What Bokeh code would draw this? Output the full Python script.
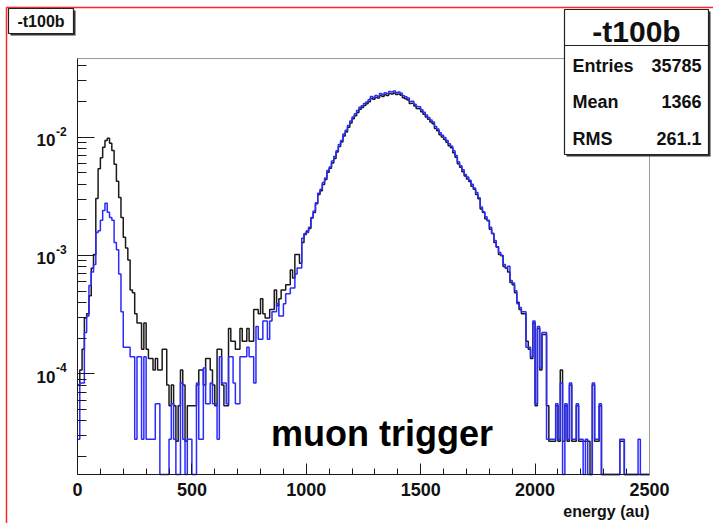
import numpy as np
from bokeh.plotting import figure
from bokeh.models import FixedTicker, Label, BoxAnnotation, Range1d, ColumnDataSource, LinearAxis, LogAxis
from bokeh.embed import file_html
from bokeh.resources import INLINE

# ---------------- data (counts per 10-unit bin, 0..2500) ----------------
BIN_WIDTH = 10
N_BINS = 250
BLACK_ENTRIES = 37200
BLUE_ENTRIES = 35785
STATS_TITLE = "-t100b"
STATS = [("Entries", "35785"), ("Mean", "1366"), ("RMS", "261.1")]
X_TICKS = [0, 500, 1000, 1500, 2000, 2500]
Y_TICKS = [1e-4, 1e-3, 1e-2]
Y_TICK_EXP = ["-4", "-3", "-2"]
X_LABEL = "energy (au)"
NOTE = "muon trigger"

black_counts = [
    3, 4, 6, 11, 12, 17, 29, 38, 113, 201,
    249, 306, 349, 364, 330, 287, 220, 158, 115, 78,
    53, 43, 34, 19, 18, 12, 10, 10, 6, 10,
    6, 5, 5, 4, 5, 4, 4, 6, 6, 3,
    2, 3, 2, 1, 2, 4, 3, 1, 2, 2,
    2, 2, 3, 4, 4, 3, 5, 5, 4, 3,
    2, 6, 6, 3, 2, 2, 9, 7, 7, 6,
    6, 9, 7, 7, 9, 7, 7, 13, 13, 12,
    16, 12, 11, 11, 13, 13, 19, 14, 16, 19,
    19, 21, 21, 28, 24, 38, 38, 32, 48, 56,
    60, 63, 77, 86, 102, 122, 131, 148, 163, 188,
    203, 225, 245, 278, 310, 338, 380, 412, 450, 490,
    532, 565, 602, 640, 662, 690, 712, 740, 790, 778,
    805, 797, 835, 822, 850, 837, 868, 862, 878, 852,
    860, 842, 800, 787, 765, 717, 718, 682, 650, 647,
    610, 582, 550, 527, 500, 482, 440, 422, 390, 374,
    355, 337, 315, 302, 275, 252, 222, 207, 190, 175,
    165, 157, 143, 135, 122, 112, 92, 86, 76, 73,
    62, 57, 48, 44, 38, 37, 30, 29, 27, 22,
    21, 18, 15, 13, 12, 12, 7, 6, 5, 10,
    2, 9, 4, 8, 8, 2, 1, 1, 1, 2,
    1, 4, 1, 2, 1, 3, 1, 1, 2, 1,
    1, 1, 1, 1, 0, 3, 1, 1, 2, 0,
    0, 0, 0, 0, 0, 0, 0, 1, 1, 0,
    0, 0, 0, 0, 0, 0, 0, 0, 0, 0,
]

blue_counts = [
    1, 3, 3, 8, 11, 20, 26, 30, 56, 58,
    71, 86, 99, 83, 75, 71, 46, 40, 25, 12,
    6, 6, 6, 5, 5, 1, 5, 5, 1, 5,
    1, 1, 1, 1, 2, 2, 0, 0, 0, 0,
    1, 2, 1, 0, 0, 3, 1, 0, 1, 1,
    0, 0, 3, 1, 1, 4, 2, 2, 3, 2,
    2, 1, 5, 3, 3, 2, 5, 5, 3, 2,
    2, 5, 5, 5, 6, 5, 5, 3, 9, 7,
    7, 10, 10, 7, 10, 12, 12, 14, 11, 11,
    14, 17, 17, 19, 19, 25, 28, 28, 50, 55,
    56, 62, 75, 85, 100, 120, 130, 148, 162, 187,
    200, 225, 245, 275, 310, 335, 380, 410, 450, 490,
    530, 565, 600, 640, 660, 690, 710, 740, 790, 775,
    805, 795, 835, 820, 850, 835, 870, 860, 880, 850,
    860, 840, 800, 785, 765, 715, 720, 680, 650, 645,
    610, 580, 550, 525, 500, 480, 440, 420, 390, 372,
    355, 335, 315, 300, 275, 250, 222, 205, 190, 173,
    165, 155, 143, 133, 122, 110, 92, 84, 76, 71,
    62, 55, 48, 42, 38, 36, 30, 28, 29, 22,
    21, 18, 14, 13, 12, 12, 6, 6, 5, 10,
    2, 9, 4, 8, 8, 1, 1, 1, 1, 2,
    1, 3, 0, 2, 1, 3, 1, 1, 2, 1,
    1, 0, 1, 0, 0, 3, 1, 1, 2, 0,
    0, 0, 0, 0, 0, 0, 0, 1, 1, 0,
    0, 0, 0, 0, 0, 1, 0, 0, 0, 0,
]

# ---------------- geometry ----------------
W, H = 713, 523
X_MIN, X_MAX = 0, 2500
Y_MIN, Y_MAX = 1.41e-5, 0.0462
# the frame fills the whole canvas; the histogram box sits at px 77..649 x 58..474
FR_L, FR_R, FR_T, FR_B = 77, 649, 58, 474
xs = (X_MAX - X_MIN) / (FR_R - FR_L)
dec = (FR_B - FR_T) / (np.log10(Y_MAX) - np.log10(Y_MIN))
x_start = X_MIN - FR_L * xs
x_end = X_MAX + (W - FR_R) * xs
y_top = 10 ** (np.log10(Y_MAX) + FR_T / dec)
y_bot = 10 ** (np.log10(Y_MIN) - (H - FR_B) / dec)

FONT = "Liberation Sans"
INK = "#111111"
AX = "#1a1a1a"

p = figure(width=W, height=H, x_range=Range1d(x_start, x_end), y_range=Range1d(y_bot, y_top),
           y_axis_type="log", title=None, output_backend="svg", toolbar_location=None,
           min_border=0, min_border_left=0, min_border_right=0, min_border_top=0, min_border_bottom=0)
p.background_fill_color = "white"
p.border_fill_color = "white"
p.outline_line_color = None
p.xgrid.visible = False
p.ygrid.visible = False

# red canvas border (top and left visible)
p.add_layout(BoxAnnotation(left=6, right=W + 40, top=H - 7, bottom=-40, left_units="screen", right_units="screen",
                           top_units="screen", bottom_units="screen", fill_alpha=0, line_color="#ff2626",
                           line_alpha=1, line_width=1.5))

# ---------------- histograms ----------------
edges = np.arange(N_BINS + 1) * BIN_WIDTH


def step_y(counts, entries):
    d = np.array(counts, dtype=float) / entries
    d[d <= 0] = Y_MIN
    return np.append(d, d[-1])


src = ColumnDataSource(dict(x=edges, black=step_y(black_counts, BLACK_ENTRIES),
                            blue=step_y(blue_counts, BLUE_ENTRIES)))
p.step("x", "black", source=src, mode="after", line_color="#1a1a1a", line_width=1.5)
p.step("x", "blue", source=src, mode="after", line_color="#2a2aff", line_width=1.5)

# ---------------- axes ----------------
xa = p.xaxis[0]
xa.fixed_location = Y_MIN
xa.bounds = (X_MIN, X_MAX)
xa.ticker = FixedTicker(ticks=X_TICKS, minor_ticks=[v for v in range(0, 2501, 100) if v % 500])
xa.major_tick_in = 11
xa.major_tick_out = 0
xa.minor_tick_in = 6
xa.minor_tick_out = 0
xa.major_label_standoff = 8
xa.major_label_text_font = FONT
xa.major_label_text_font_style = "bold"
xa.major_label_text_font_size = "18px"
xa.major_label_text_color = INK
xa.axis_line_color = AX
xa.major_tick_line_color = AX
xa.minor_tick_line_color = AX

minor_y = []
for d0 in [1e-5, 1e-4, 1e-3, 1e-2]:
    for k in range(2, 10):
        v = k * d0
        if Y_MIN < v < Y_MAX:
            minor_y.append(v)
ya = p.yaxis[0]
ya.fixed_location = X_MIN
ya.bounds = (Y_MIN, Y_MAX)
ya.ticker = FixedTicker(ticks=Y_TICKS, minor_ticks=minor_y)
ya.major_label_overrides = {t: "" for t in Y_TICKS}
ya.major_tick_in = 17
ya.major_tick_out = 0
ya.minor_tick_in = 9
ya.minor_tick_out = 0
ya.axis_line_color = AX
ya.major_tick_line_color = AX
ya.minor_tick_line_color = AX

# frame top / right (grey)
top_ax = LinearAxis(fixed_location=Y_MAX, bounds=(X_MIN, X_MAX), ticker=FixedTicker(ticks=[], minor_ticks=[]),
                    axis_line_color="#9a9a9a", major_tick_line_color=None, minor_tick_line_color=None,
                    major_label_text_font_size="0px")
p.add_layout(top_ax, "above")
right_ax = LogAxis(fixed_location=X_MAX, bounds=(Y_MIN, Y_MAX), ticker=FixedTicker(ticks=[], minor_ticks=[]),
                   axis_line_color="#9a9a9a", major_tick_line_color=None, minor_tick_line_color=None,
                   major_label_text_font_size="0px")
p.add_layout(right_ax, "right")

# y tick labels: 10 with superscript exponent
for t, e in zip(Y_TICKS, Y_TICK_EXP):
    p.add_layout(Label(x=55, y=t, x_units="screen", y_units="data", text="10", text_align="right",
                       text_baseline="middle", y_offset=-3, text_font=FONT, text_font_style="bold",
                       text_font_size="17px", text_color=INK))
    p.add_layout(Label(x=55.5, y=t, x_units="screen", y_units="data", text=e, text_align="left",
                       text_baseline="middle", y_offset=6, text_font=FONT, text_font_style="bold",
                       text_font_size="12px", text_color=INK))

# x axis title (right aligned at axis end)
p.add_layout(Label(x=FR_R, y=H - 511, x_units="screen", y_units="screen", text=X_LABEL, text_align="right",
                   text_baseline="middle", text_font=FONT, text_font_style="bold", text_font_size="16px",
                   text_color=INK))
# note
p.add_layout(Label(x=1331, y=3.13e-5, text=NOTE, text_align="center", text_baseline="alphabetic",
                   text_font=FONT, text_font_style="bold", text_font_size="36px", text_color="black"))


def sbox(l, t, r, b, **kw):
    return BoxAnnotation(left=l, right=r, top=H - t, bottom=H - b, left_units="screen", right_units="screen",
                         top_units="screen", bottom_units="screen", **kw)


# title box
p.add_layout(sbox(10, 10, 75, 35, fill_color="#333333", fill_alpha=1, line_alpha=0))
p.add_layout(sbox(8, 8, 73, 33, fill_color="white", fill_alpha=1, line_color="#222222", line_alpha=1,
                  line_width=1.2))
p.add_layout(Label(x=40.5, y=H - 21, x_units="screen", y_units="screen", text=STATS_TITLE, text_align="center",
                   text_baseline="middle", text_font=FONT, text_font_style="bold", text_font_size="16px",
                   text_color=INK))
# stats box
p.add_layout(sbox(566, 11, 710, 156, fill_color="#333333", fill_alpha=1, line_alpha=0))
p.add_layout(sbox(564, 9, 708, 154, fill_color="white", fill_alpha=1, line_color="#222222", line_alpha=1,
                  line_width=1.2))
p.add_layout(sbox(564, 45, 708, 45, fill_alpha=0, line_color="#222222", line_alpha=1, line_width=1.2))
p.add_layout(Label(x=636, y=H - 31, x_units="screen", y_units="screen", text=STATS_TITLE, text_align="center",
                   text_baseline="middle", text_font=FONT, text_font_style="bold", text_font_size="30px",
                   text_color=INK))
for (name, val), yc in zip(STATS, [65, 101, 138]):
    p.add_layout(Label(x=572, y=H - yc, x_units="screen", y_units="screen", text=name, text_align="left",
                       text_baseline="middle", text_font=FONT, text_font_style="bold", text_font_size="18px",
                       text_color=INK))
    p.add_layout(Label(x=701, y=H - yc, x_units="screen", y_units="screen", text=val, text_align="right",
                       text_baseline="middle", text_font=FONT, text_font_style="bold", text_font_size="18px",
                       text_color=INK))

open("out.html", "w").write(file_html(p, INLINE))
